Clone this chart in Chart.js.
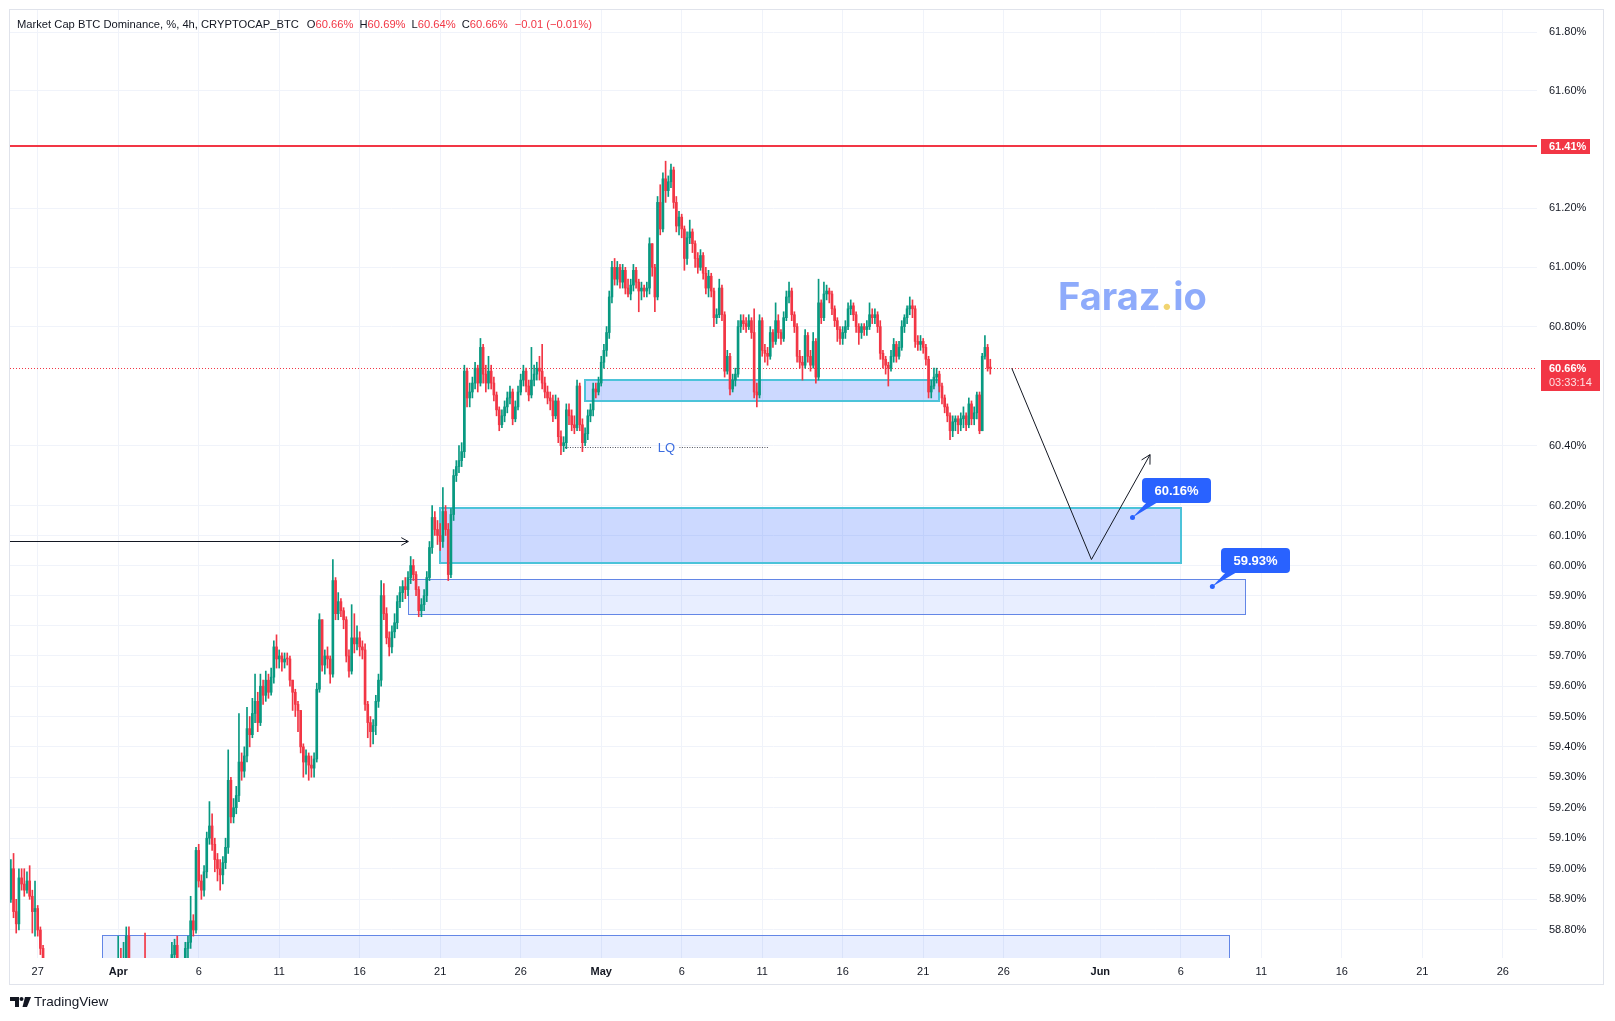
<!DOCTYPE html>
<html>
<head>
<meta charset="utf-8">
<title>BTC Dominance 4h</title>
<script src="https://cdn.jsdelivr.net/npm/chart.js@4.4.1/dist/chart.umd.min.js"></script>
<style>
  body { margin: 0; background: #fff; }
  #wrap { position: relative; width: 1615px; height: 1021px; overflow: hidden; }
  #c { position: absolute; left: 0; top: 0; }
  .frame { position: absolute; left: 9px; top: 9px; width: 1595px; height: 976px; border: 1px solid #e0e3eb; box-sizing: border-box; pointer-events: none; }
  .title { position: absolute; left: 17px; top: 18px; font: 11.2px 'Liberation Sans', Arial, sans-serif; line-height: 13px; color: #131722; white-space: nowrap; }
  .title .v { color: #f23645; }
  .title .g { margin-left: 6px; }
  .brand { position: absolute; left: 10px; top: 994px; font: 13.5px 'Liberation Sans', Arial, sans-serif; color: #131722; display: flex; align-items: center; }
  .brand svg { margin-right: 3px; }
</style>
</head>
<body>
<div id="wrap">
  <canvas id="c" width="1615" height="1021"></canvas>
  <div class="frame"></div>
  <div class="title">Market Cap BTC Dominance, %, 4h, CRYPTOCAP_BTC<span class="g" style="margin-left:8px">O<span class="v">60.66%</span></span><span class="g">H<span class="v">60.69%</span></span><span class="g">L<span class="v">60.64%</span></span><span class="g">C<span class="v">60.66%</span></span><span class="g v" style="margin-left:7px">−0.01 (−0.01%)</span></div>
  <div class="brand"><svg width="21" height="10" viewBox="0 0 21 10"><path d="M0 0H9V10H5V4H0Z" fill="#131722"/><circle cx="11.5" cy="2" r="2" fill="#131722"/><path d="M15 0H21L17 10H12.5Z" fill="#131722"/></svg>TradingView</div>
</div>
<script>
// ---- data ----
var firstOpen = 58.90;
var closes = [
  59.00, 58.86, 58.82, 58.97,                 // Mar 25 (from 08:00)
  58.95, 58.93, 58.96, 58.91, 58.86, 58.87,   // Mar 26
  58.80, 58.74, 58.67, 58.62, 58.60, 58.56,   // Mar 27
  58.52, 58.48, 58.55, 58.50, 58.45, 58.42,
  58.46, 58.50, 58.44, 58.40, 58.43, 58.47,
  58.51, 58.48, 58.53, 58.57, 58.55, 58.60,
  58.58, 58.62, 58.59, 58.63, 58.60, 58.61,   // Mar 31
  58.68, 58.66, 58.70, 58.78, 58.66, 58.60,   // Apr 1
  58.58, 58.55, 58.60, 58.57, 58.52, 58.54,
  58.50, 58.47, 58.45, 58.49, 58.52, 58.48,
  58.56, 58.60, 58.72, 58.75, 58.69, 58.62,
  58.66, 58.74, 58.76, 58.83, 58.80, 59.06,   // Apr 5
  58.96, 58.93, 58.99, 59.10, 59.14, 59.08,
  59.03, 59.00, 58.98, 59.02, 59.07, 59.29,
  59.17, 59.20, 59.24, 59.35, 59.32, 59.37,
  59.46, 59.44, 59.51, 59.55, 59.48, 59.60,
  59.57, 59.62, 59.58, 59.63, 59.73, 59.69,   // Apr 10
  59.70, 59.68, 59.69, 59.69, 59.62, 59.58,
  59.54, 59.52, 59.40, 59.35, 59.37, 59.34,
  59.33, 59.36, 59.59, 59.82, 59.67, 59.70,
  59.69, 59.64, 59.95, 59.84, 59.88, 59.85,
  59.82, 59.70, 59.65, 59.76, 59.74, 59.76,   // Apr 15
  59.73, 59.72, 59.54, 59.48, 59.45, 59.47,
  59.55, 59.62, 59.90, 59.84, 59.76, 59.73,
  59.78, 59.81, 59.88, 59.91, 59.93, 59.92,
  59.96, 60.00, 59.97, 59.92, 59.85, 59.87,
  59.90, 59.96, 60.06, 60.16, 60.12, 60.10,   // Apr 20
  60.08, 60.18, 60.12, 59.97, 60.17, 60.30,
  60.33, 60.35, 60.38, 60.65, 60.56, 60.58,
  60.61, 60.66, 60.61, 60.73, 60.64, 60.61,
  60.65, 60.61, 60.57, 60.52, 60.47, 60.50,
  60.53, 60.56, 60.58, 60.49, 60.53, 60.58,   // Apr 25
  60.62, 60.65, 60.60, 60.57, 60.62, 60.64,
  60.66, 60.65, 60.61, 60.58, 60.56, 60.55,
  60.50, 60.55, 60.43, 60.40, 60.41, 60.52,
  60.50, 60.47, 60.46, 60.60, 60.47, 60.41,
  60.44, 60.50, 60.52, 60.59, 60.58, 60.61,   // Apr 30
  60.68, 60.72, 60.78, 60.90, 61.00, 60.96,   // May 1
  61.00, 60.95, 60.99, 60.93, 60.91, 60.94,
  60.99, 60.95, 60.92, 60.93, 60.92, 60.93,
  61.08, 61.00, 60.90, 61.22, 61.13, 61.30,
  61.26, 61.29, 61.33, 61.22, 61.14, 61.17,   // May 5
  61.13, 61.03, 61.10, 61.12, 61.08, 61.03,
  61.00, 61.04, 60.98, 60.93, 60.97, 60.92,
  60.83, 60.84, 60.93, 60.84, 60.65, 60.70,
  60.59, 60.62, 60.64, 60.80, 60.82, 60.81,
  60.80, 60.82, 60.78, 60.58, 60.57, 60.82,   // May 10
  60.72, 60.71, 60.70, 60.78, 60.75, 60.82,
  60.78, 60.76, 60.83, 60.90, 60.92, 60.84,
  60.80, 60.70, 60.68, 60.67, 60.77, 60.70,
  60.67, 60.75, 60.63, 60.88, 60.83, 60.91,
  60.92, 60.91, 60.86, 60.82, 60.79, 60.76,   // May 15
  60.78, 60.80, 60.86, 60.87, 60.84, 60.80,
  60.78, 60.80, 60.79, 60.80, 60.84, 60.83,
  60.84, 60.80, 60.71, 60.69, 60.67, 60.66,
  60.70, 60.74, 60.70, 60.73, 60.80, 60.83,
  60.86, 60.87, 60.86, 60.75, 60.74, 60.75,   // May 20
  60.73, 60.69, 60.58, 60.60, 60.63, 60.64,
  60.60, 60.56, 60.53, 60.50, 60.45, 60.48,
  60.49, 60.47, 60.49, 60.50, 60.47, 60.54,
  60.49, 60.51, 60.57, 60.45, 60.70, 60.73,
  60.66, 60.66                                 // May 25
];
var highs = [
  59.03, 59.05, 58.90, 59.00,
  59.00, 59.00, 58.99, 59.01, 58.93, 58.96,
  58.88, 58.81, 58.75, 58.68, 58.65, 58.62,
  58.59, 58.55, 58.58, 58.57, 58.52, 58.48,
  58.49, 58.53, 58.52, 58.46, 58.46, 58.50,
  58.54, 58.53, 58.56, 58.60, 58.59, 58.63,
  58.63, 58.65, 58.64, 58.66, 58.65, 58.66,
  58.78, 58.74, 58.76, 58.81, 58.81, 58.68,
  58.63, 58.61, 58.63, 58.62, 58.79, 58.57,
  58.57, 58.53, 58.50, 58.52, 58.55, 58.55,
  58.59, 58.63, 58.76, 58.77, 58.78, 58.70,
  58.70, 58.76, 58.78, 58.91, 58.85, 59.07,
  59.08, 58.98, 59.01, 59.12, 59.22, 59.18,
  59.10, 59.05, 59.03, 59.04, 59.10, 59.39,
  59.30, 59.23, 59.27, 59.51, 59.38, 59.40,
  59.53, 59.50, 59.56, 59.64, 59.58, 59.64,
  59.62, 59.65, 59.64, 59.66, 59.75, 59.77,
  59.72, 59.71, 59.71, 59.71, 59.70, 59.62,
  59.59, 59.55, 59.52, 59.41, 59.39, 59.38,
  59.37, 59.38, 59.61, 59.84, 59.82, 59.72,
  59.73, 59.70, 60.02, 59.96, 59.91, 59.89,
  59.86, 59.83, 59.72, 59.87, 59.84, 59.80,
  59.78, 59.75, 59.74, 59.55, 59.50, 59.49,
  59.57, 59.64, 59.95, 59.94, 59.86, 59.78,
  59.80, 59.84, 59.90, 59.93, 59.95, 59.96,
  59.98, 60.03, 60.02, 59.98, 59.93, 59.89,
  59.92, 59.98, 60.08, 60.20, 60.18, 60.15,
  60.14, 60.26, 60.20, 60.14, 60.19, 60.32,
  60.35, 60.40, 60.41, 60.67, 60.66, 60.61,
  60.63, 60.68, 60.67, 60.76, 60.74, 60.67,
  60.70, 60.67, 60.63, 60.58, 60.53, 60.52,
  60.55, 60.58, 60.60, 60.59, 60.55, 60.60,
  60.64, 60.67, 60.66, 60.62, 60.73, 60.67,
  60.68, 60.70, 60.74, 60.63, 60.60, 60.58,
  60.57, 60.57, 60.56, 60.45, 60.43, 60.54,
  60.54, 60.52, 60.50, 60.62, 60.61, 60.49,
  60.46, 60.52, 60.54, 60.61, 60.61, 60.63,
  60.70, 60.74, 60.80, 60.92, 61.02, 61.03,
  61.02, 61.01, 61.01, 61.00, 60.96, 60.96,
  61.01, 61.00, 60.96, 60.95, 60.94, 60.95,
  61.10, 61.08, 61.01, 61.24, 61.28, 61.32,
  61.36, 61.31, 61.35, 61.34, 61.24, 61.19,
  61.18, 61.14, 61.12, 61.16, 61.13, 61.09,
  61.05, 61.06, 61.05, 61.00, 60.99, 60.98,
  60.93, 60.86, 60.96, 60.94, 60.85, 60.72,
  60.71, 60.64, 60.66, 60.82, 60.84, 60.84,
  60.83, 60.84, 60.83, 60.86, 60.61, 60.84,
  60.83, 60.74, 60.73, 60.80, 60.79, 60.88,
  60.84, 60.79, 60.85, 60.92, 60.95, 60.93,
  60.85, 60.81, 60.72, 60.70, 60.79, 60.78,
  60.72, 60.78, 60.76, 60.96, 60.89, 60.95,
  60.94, 60.93, 60.92, 60.87, 60.83, 60.80,
  60.80, 60.82, 60.88, 60.89, 60.88, 60.85,
  60.81, 60.81, 60.81, 60.82, 60.88, 60.86,
  60.86, 60.85, 60.82, 60.72, 60.70, 60.68,
  60.72, 60.76, 60.75, 60.75, 60.82, 60.84,
  60.87, 60.90, 60.89, 60.87, 60.77, 60.77,
  60.76, 60.74, 60.70, 60.62, 60.66, 60.66,
  60.65, 60.61, 60.57, 60.54, 60.51, 60.50,
  60.50, 60.50, 60.51, 60.53, 60.51, 60.56,
  60.55, 60.53, 60.58, 60.58, 60.71, 60.77,
  60.74, 60.69
];
var lows = [
  58.89, 58.84, 58.79, 58.80,
  58.93, 58.91, 58.92, 58.90, 58.79, 58.78,
  58.78, 58.72, 58.65, 58.58, 58.55, 58.52,
  58.49, 58.45, 58.46, 58.47, 58.42, 58.39,
  58.40, 58.44, 58.42, 58.37, 58.38, 58.41,
  58.45, 58.46, 58.46, 58.51, 58.52, 58.53,
  58.55, 58.56, 58.57, 58.57, 58.58, 58.57,
  58.60, 58.60, 58.64, 58.68, 58.62, 58.55,
  58.54, 58.51, 58.53, 58.54, 58.49, 58.50,
  58.47, 58.44, 58.41, 58.43, 58.46, 58.45,
  58.46, 58.53, 58.58, 58.69, 58.66, 58.59,
  58.60, 58.64, 58.70, 58.74, 58.78, 58.79,
  58.94, 58.90, 58.91, 58.97, 59.08, 59.06,
  58.99, 58.96, 58.93, 58.95, 59.00, 59.05,
  59.15, 59.15, 59.18, 59.22, 59.29, 59.30,
  59.35, 59.40, 59.43, 59.48, 59.45, 59.47,
  59.54, 59.55, 59.56, 59.57, 59.61, 59.66,
  59.66, 59.65, 59.66, 59.67, 59.60, 59.52,
  59.50, 59.45, 59.38, 59.30, 59.31, 59.29,
  59.30, 59.30, 59.35, 59.58, 59.65, 59.64,
  59.66, 59.61, 59.63, 59.82, 59.82, 59.83,
  59.79, 59.68, 59.63, 59.64, 59.71, 59.72,
  59.70, 59.69, 59.52, 59.43, 59.40, 59.41,
  59.44, 59.53, 59.60, 59.82, 59.74, 59.70,
  59.71, 59.76, 59.79, 59.86, 59.88, 59.89,
  59.90, 59.94, 59.95, 59.90, 59.83, 59.83,
  59.85, 59.88, 59.95, 60.04, 60.10, 60.07,
  60.05, 60.06, 60.10, 59.95, 59.96, 60.15,
  60.28, 60.31, 60.33, 60.36, 60.53, 60.53,
  60.56, 60.59, 60.58, 60.60, 60.61, 60.58,
  60.59, 60.59, 60.55, 60.50, 60.45, 60.46,
  60.48, 60.51, 60.54, 60.47, 60.48, 60.52,
  60.57, 60.60, 60.58, 60.55, 60.56, 60.60,
  60.62, 60.62, 60.59, 60.56, 60.54, 60.52,
  60.48, 60.49, 60.41, 60.37, 60.38, 60.39,
  60.47, 60.45, 60.44, 60.45, 60.45, 60.38,
  60.40, 60.42, 60.48, 60.50, 60.56, 60.57,
  60.60, 60.66, 60.70, 60.76, 60.88, 60.94,
  60.94, 60.93, 60.93, 60.91, 60.90, 60.89,
  60.92, 60.93, 60.85, 60.89, 60.90, 60.90,
  60.91, 60.97, 60.85, 60.89, 61.11, 61.12,
  61.22, 61.24, 61.27, 61.20, 61.12, 61.11,
  61.10, 60.99, 61.01, 61.08, 61.05, 61.00,
  60.98, 60.99, 60.96, 60.91, 60.90, 60.90,
  60.80, 60.81, 60.83, 60.82, 60.63, 60.64,
  60.57, 60.58, 60.60, 60.63, 60.78, 60.79,
  60.78, 60.79, 60.76, 60.56, 60.53, 60.56,
  60.70, 60.68, 60.67, 60.69, 60.73, 60.74,
  60.76, 60.74, 60.75, 60.82, 60.88, 60.82,
  60.78, 60.68, 60.66, 60.62, 60.66, 60.68,
  60.65, 60.66, 60.61, 60.62, 60.81, 60.82,
  60.89, 60.88, 60.84, 60.80, 60.75, 60.74,
  60.74, 60.76, 60.79, 60.84, 60.82, 60.78,
  60.74, 60.76, 60.77, 60.77, 60.79, 60.81,
  60.81, 60.78, 60.69, 60.66, 60.64, 60.60,
  60.65, 60.68, 60.68, 60.69, 60.72, 60.78,
  60.81, 60.84, 60.83, 60.73, 60.72, 60.72,
  60.71, 60.67, 60.56, 60.56, 60.59, 60.61,
  60.58, 60.54, 60.51, 60.48, 60.42, 60.43,
  60.45, 60.44, 60.45, 60.46, 60.45, 60.46,
  60.47, 60.47, 60.49, 60.44, 60.45, 60.69,
  60.65, 60.64
];

var xTickDates = ['2025-03-27','2025-04-01','2025-04-06','2025-04-11','2025-04-16','2025-04-21','2025-04-26',
  '2025-05-01','2025-05-06','2025-05-11','2025-05-16','2025-05-21','2025-05-26',
  '2025-06-01','2025-06-06','2025-06-11','2025-06-16','2025-06-21','2025-06-26'];
var xTickLabels = ['27','Apr','6','11','16','21','26','May','6','11','16','21','26','Jun','6','11','16','21','26'];
var monthLabels = ['Apr','May','Jun'];
var yTicks = [58.8,58.9,59.0,59.1,59.2,59.3,59.4,59.5,59.6,59.7,59.8,59.9,60.0,60.1,60.2,60.4,60.8,61.0,61.2,61.6,61.8];

var resistance = 61.41;
var lastPrice = 60.66;
var countdown = '03:33:14';

// zones (drawn rectangles)
var zoneFrom   = ['2025-04-30','2025-04-21','2025-04-19','2025-03-31'];
var zoneTo     = ['2025-05-22','2025-06-06','2025-06-10','2025-06-09'];
var zoneTop    = [60.62, 60.19, 59.955, 58.785];
var zoneBottom = [60.55, 60.01, 59.84, 58.40];

// projected path: [day offset from Mar 27, price]
var pathDays   = [60.5, 65.45, 69.09];
var pathPrices = [60.66, 60.02, 60.37];
var arrowToDay = 23.02, arrowPrice = 60.08;
var lqFromDay = 32.75, lqToDay = 45.36, lqPrice = 60.395, lqTextDay = 39.05;
var targetDays   = [68.0, 72.96];
var targetPrices = [60.16, 59.93];
var markDay = 68, markPrice = 60.895;

// ---- helpers ----
var GREEN = '#089981', RED = '#f23645';
var FONT = "'Liberation Sans', Arial, sans-serif";
var DAY0 = Date.UTC(2025, 2, 27);
var FIRST = Date.UTC(2025, 2, 25, 8);
function dayOf(s) { return (Date.parse(s + 'T00:00:00Z') - DAY0) / 864e5; }

var opens = closes.map(function (c, i) { return i === 0 ? firstOpen : closes[i - 1]; });
var bodies = [], wicks = [];
closes.forEach(function (c, i) {
  var d = (FIRST + i * 4 * 3600e3 - DAY0) / 864e5;
  var o = opens[i];
  bodies.push({ x: d, y: [o, c] });
  wicks.push({ x: d, y: [Math.min(lows[i], o, c), Math.max(highs[i], o, c)] });
});
function candleColor(ctx) {
  var i = ctx.dataIndex;
  if (i === undefined) return GREEN;
  return closes[i] > opens[i] ? GREEN : RED;
}
var xTickDays = xTickDates.map(dayOf);

function roundRect(ctx, x, y, w, h, r) {
  ctx.beginPath();
  ctx.moveTo(x + r, y);
  ctx.lineTo(x + w - r, y); ctx.quadraticCurveTo(x + w, y, x + w, y + r);
  ctx.lineTo(x + w, y + h - r); ctx.quadraticCurveTo(x + w, y + h, x + w - r, y + h);
  ctx.lineTo(x + r, y + h); ctx.quadraticCurveTo(x, y + h, x, y + h - r);
  ctx.lineTo(x, y + r); ctx.quadraticCurveTo(x, y, x + r, y);
  ctx.closePath();
}
function openHead(ctx, fx, fy, tx, ty, len) {
  var a = Math.atan2(ty - fy, tx - fx);
  ctx.beginPath();
  ctx.moveTo(tx - len * Math.cos(a - 0.5), ty - len * Math.sin(a - 0.5));
  ctx.lineTo(tx, ty);
  ctx.lineTo(tx - len * Math.cos(a + 0.5), ty - len * Math.sin(a + 0.5));
  ctx.stroke();
}

var overlay = {
  id: 'overlay',
  beforeDatasetsDraw: function (chart) {
    var ctx = chart.ctx, a = chart.chartArea, x = chart.scales.x, y = chart.scales.y;
    ctx.save();
    ctx.beginPath(); ctx.rect(a.left, a.top, a.right - a.left, a.bottom - a.top); ctx.clip();
    zoneFrom.forEach(function (f, i) {
      var x1 = Math.round(x.getPixelForValue(dayOf(f))), x2 = Math.round(x.getPixelForValue(dayOf(zoneTo[i])));
      var y1 = Math.round(y.getPixelForValue(zoneTop[i])), y2 = Math.round(y.getPixelForValue(zoneBottom[i]));
      var strong = i < 2;
      ctx.fillStyle = strong ? 'rgba(41,98,255,0.24)' : 'rgba(41,98,255,0.11)';
      ctx.fillRect(x1, y1, x2 - x1, y2 - y1);
      ctx.strokeStyle = strong ? '#4cc3d9' : '#6386e6';
      ctx.lineWidth = strong ? 2 : 1;
      if (strong) ctx.strokeRect(x1, y1, x2 - x1, y2 - y1);
      else ctx.strokeRect(x1 + 0.5, y1 + 0.5, x2 - x1, y2 - y1);
    });
    // last price line
    var yl = Math.round(y.getPixelForValue(lastPrice)) + 0.5;
    ctx.strokeStyle = RED; ctx.lineWidth = 1; ctx.setLineDash([1, 2]);
    ctx.beginPath(); ctx.moveTo(a.left, yl); ctx.lineTo(a.right, yl); ctx.stroke();
    ctx.setLineDash([]);
    // resistance
    var yr = Math.round(y.getPixelForValue(resistance));
    ctx.strokeStyle = RED; ctx.lineWidth = 2;
    ctx.beginPath(); ctx.moveTo(a.left, yr); ctx.lineTo(a.right, yr); ctx.stroke();
    ctx.restore();
  },
  afterDatasetsDraw: function (chart) {
    var ctx = chart.ctx, a = chart.chartArea, x = chart.scales.x, y = chart.scales.y;
    ctx.save();
    ctx.beginPath(); ctx.rect(a.left, a.top, a.right - a.left, a.bottom - a.top); ctx.clip();
    ctx.strokeStyle = '#131722'; ctx.lineWidth = 1;
    // left arrow
    var ay = Math.round(y.getPixelForValue(arrowPrice)) + 0.5, ax = x.getPixelForValue(arrowToDay);
    ctx.beginPath(); ctx.moveTo(a.left, ay); ctx.lineTo(ax, ay); ctx.stroke();
    openHead(ctx, a.left, ay, ax, ay, 8);
    // projected path
    var pts = pathDays.map(function (d, i) { return [x.getPixelForValue(d), y.getPixelForValue(pathPrices[i])]; });
    ctx.beginPath(); ctx.moveTo(pts[0][0], pts[0][1]);
    pts.slice(1).forEach(function (p) { ctx.lineTo(p[0], p[1]); });
    ctx.stroke();
    openHead(ctx, pts[1][0], pts[1][1], pts[2][0], pts[2][1], 10);
    // LQ
    var lqY = Math.round(y.getPixelForValue(lqPrice)) + 0.5, tx = x.getPixelForValue(lqTextDay);
    ctx.strokeStyle = '#50535e'; ctx.setLineDash([1, 1.5]);
    ctx.beginPath();
    ctx.moveTo(x.getPixelForValue(lqFromDay), lqY); ctx.lineTo(tx - 14, lqY);
    ctx.moveTo(tx + 13, lqY); ctx.lineTo(x.getPixelForValue(lqToDay), lqY);
    ctx.stroke(); ctx.setLineDash([]);
    ctx.fillStyle = '#3d6ee0'; ctx.font = '13px ' + FONT; ctx.textAlign = 'center'; ctx.textBaseline = 'middle';
    ctx.fillText('LQ', tx, lqY + 1);
    // watermark
    ctx.font = "bold 38px Inter, 'Open Sans', sans-serif";
    ctx.textAlign = 'left'; ctx.textBaseline = 'middle';
    var parts = [['Faraz', '#8eabfb'], ['.', '#f1d470'], ['io', '#8eabfb']];
    var tw = parts.reduce(function (s, p) { return s + ctx.measureText(p[0]).width; }, 0);
    var wx = x.getPixelForValue(markDay) - tw / 2, wy = y.getPixelForValue(markPrice);
    parts.forEach(function (p) { ctx.fillStyle = p[1]; ctx.fillText(p[0], wx, wy); wx += ctx.measureText(p[0]).width; });
    // target callouts
    targetDays.forEach(function (d, i) {
      var px = x.getPixelForValue(d), py = y.getPixelForValue(targetPrices[i]);
      var bx = Math.round(px + 9), by = Math.round(py - 39), bw = 69, bh = 25;
      ctx.fillStyle = '#2962ff';
      ctx.beginPath(); ctx.moveTo(px, py); ctx.lineTo(bx + 5, by + bh - 1); ctx.lineTo(bx + 16, by + bh - 1); ctx.closePath(); ctx.fill();
      roundRect(ctx, bx, by, bw, bh, 4); ctx.fill();
      ctx.beginPath(); ctx.arc(px, py, 2.5, 0, Math.PI * 2); ctx.fill();
      ctx.fillStyle = '#ffffff'; ctx.font = 'bold 13px ' + FONT; ctx.textAlign = 'center'; ctx.textBaseline = 'middle';
      ctx.fillText(targetPrices[i].toFixed(2) + '%', bx + bw / 2, by + bh / 2 + 1);
    });
    ctx.restore();
  },
  afterDraw: function (chart) {
    var ctx = chart.ctx, a = chart.chartArea, y = chart.scales.y;
    ctx.save();
    ctx.textAlign = 'left'; ctx.textBaseline = 'middle';
    var yr = Math.round(y.getPixelForValue(resistance));
    ctx.fillStyle = RED; ctx.fillRect(a.right + 4, yr - 7, 49, 15);
    ctx.fillStyle = '#fff'; ctx.font = 'bold 11px ' + FONT;
    ctx.fillText(resistance.toFixed(2) + '%', a.right + 12, yr + 1);
    var yl = Math.round(y.getPixelForValue(lastPrice));
    ctx.fillStyle = RED; ctx.fillRect(a.right + 4, yl - 8, 59, 31);
    ctx.fillStyle = '#fff'; ctx.font = 'bold 11px ' + FONT;
    ctx.fillText(lastPrice.toFixed(2) + '%', a.right + 12, yl + 1);
    ctx.font = '11px ' + FONT; ctx.fillStyle = 'rgba(255,255,255,0.85)';
    ctx.fillText(countdown, a.right + 12, yl + 15);
    ctx.restore();
  }
};

new Chart(document.getElementById('c'), {
  type: 'bar',
  data: {
    datasets: [
      { data: bodies, backgroundColor: candleColor, barThickness: 2, minBarLength: 1, grouped: false, borderWidth: 0, order: 0 },
      { data: wicks, backgroundColor: candleColor, barThickness: 1, grouped: false, borderWidth: 0, order: 1 }
    ]
  },
  options: {
    responsive: false,
    animation: false,
    devicePixelRatio: 1,
    events: [],
    layout: { padding: { left: 10, top: 10, right: 0, bottom: 36 } },
    plugins: { legend: { display: false }, tooltip: { enabled: false } },
    scales: {
      x: {
        type: 'linear', min: -1.7205, max: 93.124, offset: false, bounds: 'data',
        grid: { color: '#f0f3fa', drawTicks: false, offset: false },
        border: { display: false },
        afterBuildTicks: function (s) { s.ticks = xTickDays.map(function (v) { return { value: v }; }); },
        afterFit: function (s) { s.height = 27; s.paddingLeft = 0; s.paddingRight = 0; },
        ticks: {
          autoSkip: false, maxRotation: 0, padding: 7, color: '#131722',
          font: function (c) { return { family: FONT, size: 11, weight: monthLabels.indexOf(xTickLabels[c.index]) >= 0 ? 'bold' : 'normal' }; },
          callback: function (v, i) { return xTickLabels[i]; }
        }
      },
      y: {
        type: 'logarithmic', position: 'right', min: 58.7088, max: 61.8764, bounds: 'data',
        grid: { color: '#f0f3fa', drawTicks: false },
        border: { display: false },
        afterBuildTicks: function (s) { s.ticks = yTicks.map(function (v) { return { value: v }; }); },
        afterFit: function (s) { s.width = 78; s.paddingTop = 0; s.paddingBottom = 0; },
        ticks: {
          autoSkip: false, padding: 12, color: '#131722', font: { family: FONT, size: 11 },
          callback: function (v) { return Number(v).toFixed(2) + '%'; }
        }
      }
    }
  },
  plugins: [overlay]
});
</script>
</body>
</html>
